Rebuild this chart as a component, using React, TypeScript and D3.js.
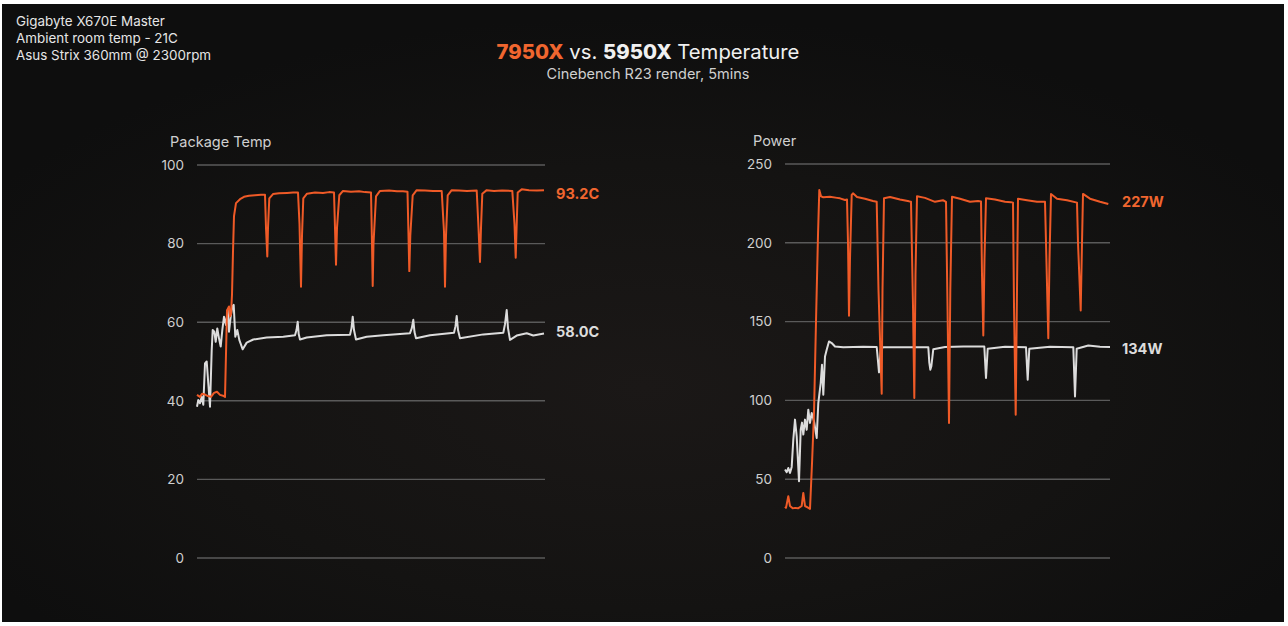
import React from "react";
import * as d3 from "d3";

const infoLines = ["Gigabyte X670E Master", "Ambient room temp - 21C", "Asus Strix 360mm @ 2300rpm"];
const titleParts = ["7950X", " vs. ", "5950X", " Temperature"];
const subtitle = "Cinebench R23 render, 5mins";

const tempTicks = [0, 20, 40, 60, 80, 100];
const powerTicks = [0, 50, 100, 150, 200, 250];

// [time (s), value]
const temp7950X: [number, number][] = [
  [0, 41.5], [3, 41], [5, 41.8], [8, 41.6], [11, 41.2], [14, 41], [17, 42], [20, 42.3], [23, 41.5], [26, 41.3], [28, 41],
  [29, 52], [30, 63], [31, 63.5], [32, 64], [33, 61.5], [34, 62], [35, 67], [36, 78], [37, 87], [39, 90.3], [43, 91.3],
  [47, 91.9], [52, 92.2], [58, 92.3], [64, 92.4], [68, 92.4], [69, 84], [70.3, 76.7], [71, 84], [72.3, 91.5], [76, 92.6],
  [82, 92.8], [90, 92.9], [96, 93], [101, 93], [102.5, 85], [104, 69], [105, 82], [106.3, 91.5], [110, 92.7], [118, 93],
  [126, 92.9], [132, 93.1], [137, 93], [138, 84], [139, 74.6], [140, 84], [142.3, 92.3], [146, 93.4], [154, 93.2],
  [162, 93.3], [168, 93.1], [174, 93], [175, 80], [175.7, 69.2], [176.5, 80], [179, 92], [183, 93.4], [192, 93.5],
  [200, 93.3], [206, 93.3], [210.5, 93.2], [211.5, 82], [212.3, 73], [213.3, 82], [215.7, 92.3], [219.7, 93.6],
  [228, 93.5], [236, 93.4], [244.7, 93.4], [247, 83], [248, 69], [249, 82], [250.7, 92.3], [254.7, 93.6], [262, 93.5],
  [270, 93.4], [279.7, 93.5], [281.5, 84], [283, 75.3], [284, 84], [285.3, 92.7], [289.7, 93.6], [297, 93.4],
  [305, 93.5], [315.3, 93.4], [317.5, 85], [318.7, 76.4], [319.7, 85], [320.7, 93], [324.7, 93.8], [332, 93.6],
  [340, 93.5], [347, 93.6],
];

const temp5950X: [number, number][] = [
  [0, 38.5], [1.3, 40.2], [3, 39.4], [4.7, 41], [6.3, 39], [8, 49.5], [9.7, 50], [11.3, 44.4], [13, 38.5], [14.7, 52.9],
  [15.7, 58], [17.3, 57.6], [18.7, 55], [20.3, 58.4], [22, 55.9], [23.7, 53.8], [25.3, 58], [27, 61.4], [29, 59.3],
  [30.7, 63.1], [32, 57.6], [33.7, 61.4], [35.3, 64], [36.7, 64.4], [38.3, 56.3], [40.3, 58], [42.3, 55.5], [45.7, 53.1],
  [49.7, 54.8], [56.3, 55.6], [69.7, 56.1], [86.3, 56.3], [98, 56.7], [99.5, 58], [100.7, 60.1], [101.7, 57], [103, 55.6],
  [109.7, 56.1], [129.7, 56.7], [153, 56.8], [154.5, 58.5], [155.7, 61.4], [157, 58], [159, 55.6], [169.7, 56.3],
  [186.3, 56.7], [213, 57.2], [214.8, 58.5], [216.3, 60.6], [217.5, 57.5], [219, 55.9], [233, 56.7], [257, 57.3],
  [258.5, 59], [259.7, 61.6], [261, 58], [263, 55.9], [286.3, 56.9], [306.3, 57.3], [308, 59.5], [309.7, 63.1],
  [311, 58.5], [313, 55.5], [319.7, 56.6], [329.7, 57.2], [336.3, 56.6], [347, 57.1],
];

const power7950X: [number, number][] = [
  [0, 32.5], [1, 31.8], [3.3, 39.2], [5, 33], [7.7, 31.5], [10, 31.8], [13, 31.5], [16.7, 33], [18.3, 41.3], [20, 33],
  [23, 32], [25, 31.2], [27, 60], [29, 92], [31, 150], [33, 205], [34.3, 233.5], [36, 229.5], [38.3, 228.9], [45, 229.2],
  [52, 228.5], [55, 228.2], [60, 227.2], [62, 227.5], [63, 200], [64, 153.7], [65, 190], [66.7, 230.4], [68, 231.4],
  [72, 229], [80, 228], [88, 226.5], [91.7, 226.1], [93.5, 170], [96.7, 104.2], [97.5, 170], [99, 228.3], [105, 229],
  [115, 227.5], [124, 226.3], [126, 226], [128, 160], [129.3, 101.5], [130.5, 180], [132, 229.5], [140, 228.5],
  [150, 226], [158, 227], [161, 226], [162.5, 160], [164, 85.7], [165.3, 170], [167, 229.2], [175, 228], [185, 226],
  [193, 226.5], [196, 226.2], [197, 180], [198.3, 141.2], [199.5, 190], [201, 228.3], [210, 227.5], [220, 226],
  [226, 225.8], [228, 225.5], [229, 160], [230.7, 90.9], [232, 170], [233, 228], [242, 227], [252, 226], [260, 226],
  [261, 200], [263.3, 139.5], [264.5, 190], [266, 231], [272, 228], [282, 227], [292, 225.5], [293, 200], [295.7, 157],
  [297, 200], [298, 231], [305, 228], [315, 226], [323.3, 224.6],
];

const power5950X: [number, number][] = [
  [0, 56.1], [1.7, 54.4], [3.3, 57.1], [5, 54], [6.7, 57.8], [8.3, 75.1], [10, 87.8], [11.7, 77.2], [14, 48.7],
  [15.7, 81.4], [17, 85.9], [18.3, 78.3], [20, 87.8], [21.7, 81.4], [23.3, 94.1], [25, 85.7], [26.7, 92], [29, 86.8],
  [31.7, 76.2], [33.3, 98.3], [35.7, 111], [37, 122.6], [38.3, 103.6], [40, 127.9], [41.7, 132.1], [44, 137.4],
  [46.7, 136.4], [50, 134.2], [58.3, 133.7], [78.3, 134], [91.7, 133.9], [94, 117.8], [95.7, 132.5], [98.3, 133.7],
  [120, 133.8], [143.3, 133.8], [144.3, 124], [145.3, 119.5], [146.3, 121.5], [148.3, 132.5], [160, 133.9],
  [178.3, 134.2], [199.3, 134.2], [201, 114.2], [202.7, 132.8], [220, 134], [241, 133.8], [242.7, 113.1],
  [244.3, 132.8], [265, 134], [288.3, 133.8], [290, 102.5], [291.7, 132.8], [303.3, 134.8], [315, 134], [325, 133.9],
];

const ORANGE = "#ef5a27";
const ORANGE_TXT = "#f0662f";
const WHITE = "#dcdcdc";
const GRID = "#5a5a5a";
const TICK = "#cfcfcf";
const FONT = "Inter, 'Noto Sans', sans-serif";

type Panel = {
  title: string;
  x0: number; x1: number; yTop: number; yBottom: number;
  ticks: number[]; tmax: number;
  a: [number, number][]; b: [number, number][];
  labelA: string; labelAv: number; labelB: string; labelBv: number;
  titleX: number; labelX: number;
};

function ChartPanel({ p }: { p: Panel }) {
  const x = d3.scaleLinear().domain([0, p.tmax]).range([p.x0, p.x1]);
  const y = d3.scaleLinear().domain([0, d3.max(p.ticks) as number]).range([p.yBottom, p.yTop]);
  const line = d3.line<[number, number]>().x((d) => x(d[0])).y((d) => y(d[1])).curve(d3.curveLinear);
  return (
    <g>
      <text x={p.titleX} y={p.yTop - 18} fill={TICK} fontSize={14.5} fontFamily={FONT}>{p.title}</text>
      {p.ticks.map((t) => (
        <g key={t}>
          <line x1={p.x0} x2={p.x1} y1={y(t)} y2={y(t)} stroke={GRID} strokeWidth={1.4} />
          <text x={p.x0 - 13} y={y(t)} dy="0.35em" textAnchor="end" fill={TICK} fontSize={13.5} fontFamily={FONT}>{t}</text>
        </g>
      ))}
      <path d={line(p.b) || ""} fill="none" stroke={WHITE} strokeWidth={2} strokeLinejoin="round" />
      <path d={line(p.a) || ""} fill="none" stroke={ORANGE} strokeWidth={2} strokeLinejoin="round" />
      <text x={p.labelX} y={y(p.labelAv) + 2} dy="0.35em" fill={ORANGE_TXT} fontSize={14.5} fontWeight={700} fontFamily={FONT}>{p.labelA}</text>
      <text x={p.labelX} y={y(p.labelBv) + 2} dy="0.35em" fill={WHITE} fontSize={14.5} fontWeight={700} fontFamily={FONT}>{p.labelB}</text>
    </g>
  );
}

export default function App() {
  const left: Panel = {
    title: "Package Temp", x0: 197, x1: 545, yTop: 165, yBottom: 558, ticks: tempTicks, tmax: 348,
    a: temp7950X, b: temp5950X, labelA: "93.2C", labelAv: 93.2, labelB: "58.0C", labelBv: 58.0,
    titleX: 170, labelX: 556,
  };
  const right: Panel = {
    title: "Power", x0: 785, x1: 1110, yTop: 164, yBottom: 558, ticks: powerTicks, tmax: 325,
    a: power7950X, b: power5950X, labelA: "227W", labelAv: 227, labelB: "134W", labelBv: 134,
    titleX: 753, labelX: 1122,
  };
  return (
    <div style={{ position: "fixed", left: 0, top: 0 }}>
      <svg width={1288} height={626} style={{ display: "block" }}>
        <defs>
          <radialGradient id="bg" cx="0.5" cy="0.62" r="0.6">
            <stop offset="0" stopColor="#1b1817" />
            <stop offset="0.6" stopColor="#141312" />
            <stop offset="1" stopColor="#0e0e0e" />
          </radialGradient>
        </defs>
        <rect x={0} y={0} width={1288} height={626} fill="#ffffff" />
        <rect x={2} y={4} width={1282} height={618} fill="url(#bg)" />
        {infoLines.map((t, i) => (
          <text key={t} x={16} y={26 + i * 17} fill="#e6e6e6" fontSize={13.4} fontFamily={FONT}>{t}</text>
        ))}
        <text x={648} y={59} textAnchor="middle" fontSize={20.3} fontFamily={FONT} fill="#f0f0f0">
          <tspan fill={ORANGE_TXT} fontWeight={800}>{titleParts[0]}</tspan>
          <tspan>{titleParts[1]}</tspan>
          <tspan fontWeight={800}>{titleParts[2]}</tspan>
          <tspan>{titleParts[3]}</tspan>
        </text>
        <text x={648} y={79} textAnchor="middle" fontSize={14.5} fontFamily={FONT} fill="#cfcfcf">{subtitle}</text>
        <ChartPanel p={left} />
        <ChartPanel p={right} />
      </svg>
    </div>
  );
}
